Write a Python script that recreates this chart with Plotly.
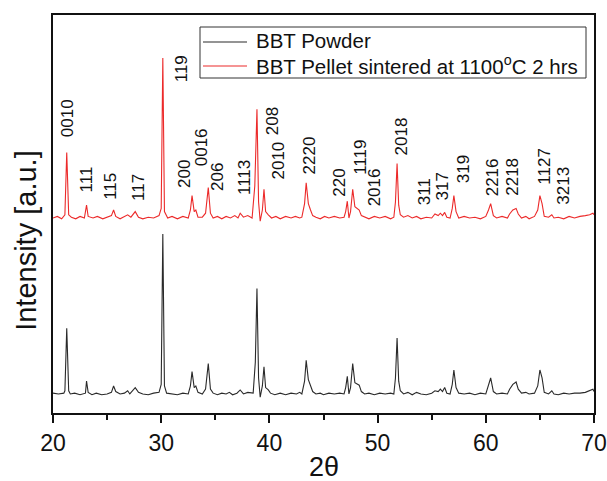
import plotly.graph_objects as go

# ---- data (2theta in degrees, relative intensity %) ----
powder_x = [20.0, 20.5, 21.0, 21.1, 21.27, 21.45, 21.6, 22.0, 22.5, 23.0, 23.1, 23.25, 23.6, 24.0, 24.5,
            25.0, 25.4, 25.6, 25.8, 26.2, 26.6, 26.9, 27.1, 27.6, 27.9, 28.3, 28.8, 29.3, 29.8, 30.0,
            30.15, 30.3, 30.5, 31.0, 31.5, 32.0, 32.5, 32.7, 32.85, 33.05, 33.2, 33.4, 33.8, 34.1, 34.35,
            34.55, 34.8, 35.2, 35.6, 36.0, 36.3, 36.6, 37.0, 37.3, 37.6, 38.0, 38.5, 38.7, 38.85, 39.0,
            39.15, 39.35, 39.5, 39.65, 39.9, 40.1, 40.5, 41.0, 41.5, 42.0, 42.5, 42.8, 43.0, 43.25, 43.4,
            43.6, 43.8, 44.0, 44.3, 44.7, 45.0, 45.5, 46.0, 46.5, 46.9, 47.05, 47.2, 47.35, 47.5, 47.7,
            47.9, 48.1, 48.3, 48.5, 48.8, 49.2, 49.7, 50.2, 50.7, 51.2, 51.5, 51.65, 51.8, 51.95, 52.1,
            52.4, 52.8, 53.2, 53.6, 54.0, 54.5, 55.0, 55.3, 55.6, 55.8, 56.0, 56.2, 56.4, 56.7, 56.9,
            57.05, 57.25, 57.5, 58.0, 58.5, 59.0, 59.5, 60.0, 60.25, 60.45, 60.7, 61.0, 61.5, 62.0, 62.2,
            62.5, 62.8, 63.0, 63.3, 63.7, 64.0, 64.5, 64.8, 65.0, 65.2, 65.4, 65.8, 66.1, 66.3, 66.7,
            67.2, 67.7, 68.2, 68.7, 69.2, 69.6, 69.9, 70.0]
powder_y = [0.5, 0.0, 0.5, 2.0, 41.0, 2.0, 0.0, 0.5, -0.5, 0.5, 8.0, 1.0, -0.5, 0.5, -0.5,
            0.0, 1.0, 5.0, 1.5, 0.0, 0.5, 2.0, 0.0, 4.0, 1.0, 0.0, -0.5, 0.5, 1.0, 6.0,
            100.0, 5.0, 0.5, 0.0, -0.5, 0.5, 0.0, 5.0, 14.0, 4.0, 5.0, 1.0, 0.0, 3.0, 19.0,
            3.0, 0.5, -0.5, 0.5, 0.0, 1.0, -0.5, 0.5, 2.5, 0.0, 1.0, 0.5, 20.0, 66.0, 10.0,
            -2.0, 5.0, 17.0, 4.0, 2.5, 0.5, -0.5, 0.5, -0.5, 0.5, 0.0, 1.0, 0.0, 8.0, 21.0,
            9.0, 5.0, 1.5, 0.0, 0.5, -0.5, 0.5, 0.0, 0.5, 0.0, 4.0, 11.0, 0.0, 4.0, 19.0,
            7.0, 6.0, 5.5, 1.5, 0.0, 0.5, -0.5, 0.5, 0.0, 0.5, 0.0, 10.0, 35.0, 8.0, 2.0,
            0.0, 1.0, -0.5, 1.0, 0.0, -0.5, 0.5, 2.0, 1.5, 3.0, 1.5, 4.0, 0.5, 0.0, 6.0,
            15.0, 4.0, 0.5, 0.0, 0.5, -0.5, 0.5, 0.0, 5.0, 10.0, 1.5, 0.0, 0.5, 0.0, 3.0,
            6.0, 7.5, 3.0, 0.5, 1.0, 0.0, 0.5, 5.0, 15.0, 10.0, 1.0, 0.0, 2.0, 0.0, -0.5,
            0.5, 0.0, 0.5, 0.5, 1.0, 2.0, 3.0, 1.5]

pellet_x = [20.0, 20.4, 20.8, 21.1, 21.27, 21.45, 21.7, 22.1, 22.5, 22.9, 23.1, 23.25, 23.7, 24.1, 24.6,
            25.0, 25.4, 25.6, 25.8, 26.2, 26.6, 26.9, 27.2, 27.6, 27.9, 28.3, 28.8, 29.3, 29.8, 30.0,
            30.15, 30.3, 30.6, 31.0, 31.5, 32.0, 32.5, 32.7, 32.85, 33.05, 33.2, 33.4, 33.8, 34.1, 34.35,
            34.55, 34.8, 35.2, 35.6, 36.0, 36.4, 36.8, 37.1, 37.3, 37.6, 38.0, 38.4, 38.65, 38.85, 39.0,
            39.15, 39.35, 39.5, 39.65, 39.9, 40.2, 40.6, 41.0, 41.5, 42.0, 42.4, 42.8, 43.0, 43.25, 43.4,
            43.6, 43.8, 44.0, 44.3, 44.7, 45.1, 45.5, 46.0, 46.5, 46.9, 47.05, 47.2, 47.35, 47.5, 47.7,
            47.9, 48.1, 48.3, 48.5, 48.8, 49.2, 49.7, 50.2, 50.7, 51.2, 51.5, 51.65, 51.8, 51.95, 52.1,
            52.4, 52.8, 53.2, 53.6, 54.0, 54.5, 55.0, 55.3, 55.6, 55.8, 56.0, 56.2, 56.4, 56.7, 56.9,
            57.05, 57.25, 57.5, 58.0, 58.5, 59.0, 59.5, 60.0, 60.25, 60.45, 60.7, 61.0, 61.5, 62.0, 62.2,
            62.5, 62.8, 63.0, 63.3, 63.7, 64.0, 64.5, 64.8, 65.0, 65.2, 65.4, 65.8, 66.1, 66.3, 66.7,
            67.2, 67.7, 68.2, 68.7, 69.2, 69.6, 69.9, 70.0]
pellet_y = [0.0, 1.0, -0.5, 2.0, 41.0, 2.0, 0.5, -0.5, 1.0, 0.0, 8.0, 1.0, 0.0, 1.0, -0.5,
            0.5, 1.5, 5.0, 1.0, -0.5, 1.0, 2.0, 0.5, 4.0, 0.5, -0.5, 0.5, 0.0, 1.5, 6.0,
            100.0, 4.0, 0.0, 1.0, -0.5, 1.0, 0.0, 5.0, 14.0, 4.0, 5.0, 0.5, 0.5, 3.0, 19.0,
            3.0, 0.0, 1.0, -0.5, 1.0, 0.0, 1.5, 0.0, 3.0, 0.5, 1.5, 0.0, 20.0, 68.0, 10.0,
            -2.0, 5.0, 18.0, 4.0, 2.0, 0.0, 1.0, -0.5, 1.0, 0.0, 1.0, 0.0, 0.5, 9.0, 22.0,
            9.0, 5.0, 1.5, 0.5, -0.5, 1.0, 0.0, 1.0, 0.0, 0.5, 4.0, 10.5, 0.0, 4.0, 18.0,
            7.0, 6.0, 5.0, 1.5, 0.5, -0.5, 1.0, 0.0, 1.0, -0.5, 0.5, 10.0, 34.0, 8.0, 2.0,
            0.5, 1.5, 0.0, 1.0, -0.5, 0.5, 0.0, 2.5, 1.5, 3.0, 1.5, 3.5, 0.5, 0.0, 6.0,
            14.0, 4.0, 0.0, 1.0, 0.0, 0.5, -0.5, 1.0, 5.0, 9.0, 1.5, 0.0, 1.0, 0.0, 2.5,
            5.0, 6.0, 2.5, 0.0, 1.0, -0.5, 1.0, 5.0, 14.0, 9.0, 1.0, 0.5, 2.0, 0.0, 0.5,
            -0.5, 1.0, 0.0, 1.0, 1.5, 2.0, 3.0, 2.0]

pellet_offset = 110.0

series_names = ["BBT Powder", "BBT Pellet sintered at 1100<sup>o</sup>C 2 hrs"]

# Miller-index labels: text, 2theta position, height (same intensity units) of label foot
hkl_labels = ["0010", "111", "115", "117", "119", "200", "0016", "206", "1113", "208", "2010",
              "2220", "220", "1119", "2016", "2018", "311", "317", "319", "2216", "2218", "1127", "3213"]
hkl_x = [21.4, 23.1, 25.3, 27.9, 31.9, 32.1, 33.7, 35.15, 37.7, 40.25, 40.75,
         43.7, 46.5, 48.4, 49.7, 52.2, 54.35, 56.0, 57.9, 60.6, 62.4, 65.4, 67.2]
hkl_y = [159.4, 124.4, 120.0, 119.4, 193.75, 127.5, 141.25, 125.6, 123.1, 160.6, 132.5,
         136.25, 121.9, 135.6, 116.25, 148.1, 116.9, 119.4, 130.6, 122.5, 122.5, 129.4, 116.9]

x_ticks = [20, 30, 40, 50, 60, 70]

FONT = "Liberation Sans, Arial, Helvetica, sans-serif"
COLORS = ["#2a2a2a", "#ec2a2a"]

# layout geometry (pixels)
W, H = 607, 481
ML, MR, MT, MB = 53, 13, 15, 68
PW, PH = W - ML - MR, H - MT - MB


def px(xp):
    return (xp - ML) / PW


def py(yp):
    return (H - MB - yp) / PH


fig = go.Figure()
fig.add_trace(go.Scatter(x=powder_x, y=powder_y, mode="lines", name=series_names[0],
                         line=dict(color=COLORS[0], width=1.1), showlegend=False))
fig.add_trace(go.Scatter(x=pellet_x, y=[v + pellet_offset for v in pellet_y], mode="lines",
                         name=series_names[1], line=dict(color=COLORS[1], width=1.1),
                         showlegend=False))

for t, xv, yv in zip(hkl_labels, hkl_x, hkl_y):
    fig.add_annotation(x=xv, y=yv, text=t, textangle=-90, showarrow=False,
                       xanchor="center", yanchor="bottom",
                       font=dict(family=FONT, size=17, color="#111"))

# legend box drawn by hand to match the original layout
fig.add_shape(type="rect", xref="paper", yref="paper", x0=px(200), x1=px(586), y0=py(27), y1=py(78),
              line=dict(color="#333", width=1), fillcolor="white", layer="above")
for i, (name, col) in enumerate(zip(series_names, COLORS)):
    yl = 42 + i * 24
    fig.add_shape(type="line", xref="paper", yref="paper", x0=px(203), x1=px(247),
                  y0=py(yl), y1=py(yl), line=dict(color=col, width=1.1), layer="above")
    fig.add_annotation(xref="paper", yref="paper", x=px(254), y=py(yl - 1), text=name,
                       showarrow=False, xanchor="left", yanchor="middle",
                       font=dict(family=FONT, size=20.5, color="#111"))

fig.add_annotation(xref="paper", yref="paper", x=-0.05, y=0.435, text="Intensity [a.u.]",
                   textangle=-90, showarrow=False, xanchor="center", yanchor="middle",
                   font=dict(family=FONT, size=29, color="#111"))
fig.add_annotation(x=45, xref="x", yref="paper", y=-0.135, text="2θ", showarrow=False,
                   xanchor="center", yanchor="middle",
                   font=dict(family=FONT, size=27, color="#111"))

fig.update_xaxes(range=[20, 70], tickvals=x_ticks, ticktext=[str(v) for v in x_ticks],
                 ticks="outside", ticklen=8, tickwidth=1.5, tickcolor="#111",
                 minor=dict(dtick=5, tick0=20, ticks="outside", ticklen=5, tickwidth=1.5, tickcolor="#111"),
                 showline=True, linecolor="#111", linewidth=1.8, mirror=True,
                 showgrid=False, zeroline=False, automargin=False,
                 tickfont=dict(family=FONT, size=23, color="#111"))
fig.update_yaxes(range=[-11.9, 236.9], showticklabels=False, ticks="",
                 showline=True, linecolor="#111", linewidth=1.8, mirror=True,
                 showgrid=False, zeroline=False, automargin=False)

fig.update_layout(
    width=W, height=H,
    margin=dict(l=ML, r=MR, t=MT, b=MB),
    paper_bgcolor="white", plot_bgcolor="white",
    showlegend=False,
)

fig.write_html("out.html")
